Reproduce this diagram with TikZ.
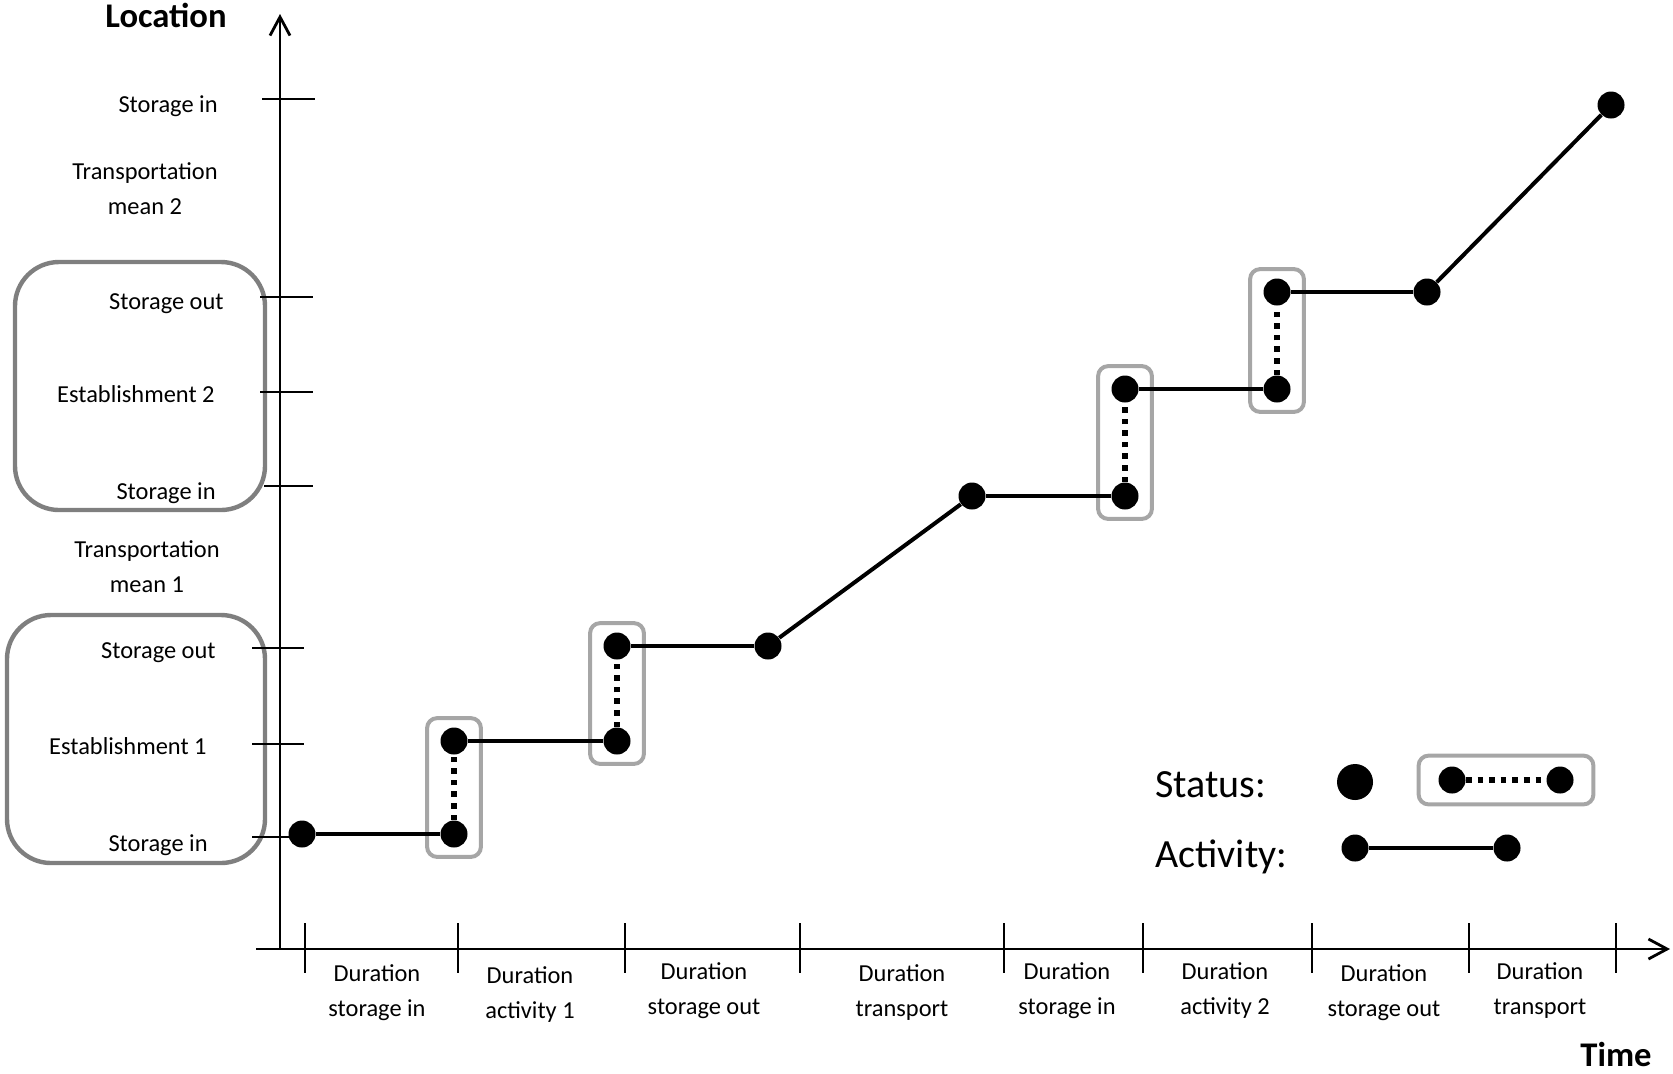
\documentclass[tikz,border=0pt]{standalone}
\usepackage{fontspec}
\setmainfont{Carlito}
\usetikzlibrary{arrows.meta,fit,backgrounds}

\definecolor{stategray}{RGB}{166,166,166}
\definecolor{sitegray}{RGB}{127,127,127}

\begin{document}
\begin{tikzpicture}[x=0.5pt,y=-0.5pt,
  dot/.style={circle,fill=black,inner sep=0pt,minimum size=13.5pt},
  bigdot/.style={circle,fill=black,inner sep=0pt,minimum size=18pt},
  activity/.style={line width=2pt,black},
  transition/.style={line width=2.8pt,dash pattern=on 2.8pt off 3pt},
  statebox/.style={draw=stategray,line width=2pt,rounded corners=5pt,inner xsep=6.5pt,inner ysep=4.5pt},
  sitebox/.style={draw=sitegray,line width=2.2pt,rounded corners=22pt},
  axis/.style={line width=1.4pt,-{Straight Barb[length=9.3pt,width=10pt]}},
  tickline/.style={line width=1pt},
  lbl/.style={inner sep=0pt,font=\fontsize{12.2}{17.5}\selectfont},
  big/.style={inner sep=0pt,font=\fontsize{20}{24}\selectfont},
  title/.style={inner sep=0pt,font=\bfseries\fontsize{17.3}{20}\selectfont}
]
\useasboundingbox (0,0) rectangle (1673,1073);

% grouping of locations into establishments
\draw[sitebox] (15,262) rectangle (265,510);
\draw[sitebox] (7,615) rectangle (265,863);

% axes
\coordinate (origin) at (280,949);
\coordinate (ytop) at (280,14);
\coordinate (xleft) at (256,949);
\coordinate (xright) at (1670,949);
\draw[axis] (origin) -- (ytop);
\draw[axis] (xleft) -- (xright);

% location ticks
\foreach \y/\a/\b in {99/262/315, 297/260/313, 392/260/313, 486/264/313,
                      648/252/304, 744/252/304, 837/252/304}
  \draw[tickline] (\a,\y) -- (\b,\y);

% time ticks
\foreach \x in {305,458,625,800,1004,1143,1312,1469,1616}
  \draw[tickline] (\x,923) -- (\x,973);

% location labels (two-line labels are placed by the baseline of their last line)
\node[title,anchor=base] (loc) at (166,27) {Location};
\node[lbl,anchor=base east] (l-si2) at (218,112) {Storage in};
\node[lbl,anchor=base,align=center] (l-tm2) at (145,214) {Transportation\\mean 2};
\node[lbl,anchor=base east] (l-so2) at (224,309) {Storage out};
\node[lbl,anchor=base east] (l-e2) at (215,402) {Establishment 2};
\node[lbl,anchor=base east] (l-si1b) at (216,499) {Storage in};
\node[lbl,anchor=base,align=center] (l-tm1) at (147,592) {Transportation\\mean 1};
\node[lbl,anchor=base east] (l-so1) at (216,658) {Storage out};
\node[lbl,anchor=base east] (l-e1) at (207,754) {Establishment 1};
\node[lbl,anchor=base east] (l-si1) at (208,851) {Storage in};

% duration labels
\node[lbl,anchor=base,align=center] (d1) at (377,1016) {Duration\\storage in};
\node[lbl,anchor=base,align=center] (d2) at (530,1018) {Duration\\activity 1};
\node[lbl,anchor=base,align=center] (d3) at (704,1014) {Duration\\storage out};
\node[lbl,anchor=base,align=center] (d4) at (902,1016) {Duration\\transport};
\node[lbl,anchor=base,align=center] (d5) at (1067,1014) {Duration\\storage in};
\node[lbl,anchor=base,align=center] (d6) at (1225,1014) {Duration\\activity 2};
\node[lbl,anchor=base,align=center] (d7) at (1384,1016) {Duration\\storage out};
\node[lbl,anchor=base,align=center] (d8) at (1540,1014) {Duration\\transport};
\node[title,anchor=base] (time) at (1616,1066) {Time};

% status points
\node[dot] (p1) at (302,834) {};
\node[dot] (p2) at (454,834) {};
\node[dot] (p3) at (454,741) {};
\node[dot] (p4) at (617,741) {};
\node[dot] (p5) at (617,646) {};
\node[dot] (p6) at (768,646) {};
\node[dot] (p7) at (972,496) {};
\node[dot] (p8) at (1125,496) {};
\node[dot] (p9) at (1125,389) {};
\node[dot] (p10) at (1277,389) {};
\node[dot] (p11) at (1277,292) {};
\node[dot] (p12) at (1427,292) {};
\node[dot] (p13) at (1611,105) {};

% activities
\draw[activity] (p1) -- (p2);
\draw[activity] (p3) -- (p4);
\draw[activity] (p5) -- (p6);
\draw[activity] (p6) -- (p7);
\draw[activity] (p7) -- (p8);
\draw[activity] (p9) -- (p10);
\draw[activity] (p11) -- (p12);
\draw[activity] (p12) -- (p13);

% status changes
\draw[transition] (p2) -- (p3);
\draw[transition] (p4) -- (p5);
\draw[transition] (p8) -- (p9);
\draw[transition] (p10) -- (p11);

% legend
\node[big,anchor=base west] (st) at (1155,797) {Status:};
\node[big,anchor=base west] (ac) at (1155,867) {Activity:};
\node[bigdot] (lg0) at (1355,782) {};
\node[dot] (lg1) at (1452,780) {};
\node[dot] (lg2) at (1560,780) {};
\draw[transition] (lg1) -- (lg2);
\node[dot] (la1) at (1355,848) {};
\node[dot] (la2) at (1507,848) {};
\draw[activity] (la1) -- (la2);

\begin{scope}[on background layer]
  \node[statebox,fit=(p2)(p3)] (s1) {};
  \node[statebox,fit=(p4)(p5)] (s2) {};
  \node[statebox,fit=(p8)(p9)] (s3) {};
  \node[statebox,fit=(p10)(p11)] (s4) {};
  \node[statebox,inner xsep=9.75pt,inner ysep=5.25pt,fit=(lg1)(lg2)] (sl) {};
\end{scope}
\end{tikzpicture}
\end{document}
